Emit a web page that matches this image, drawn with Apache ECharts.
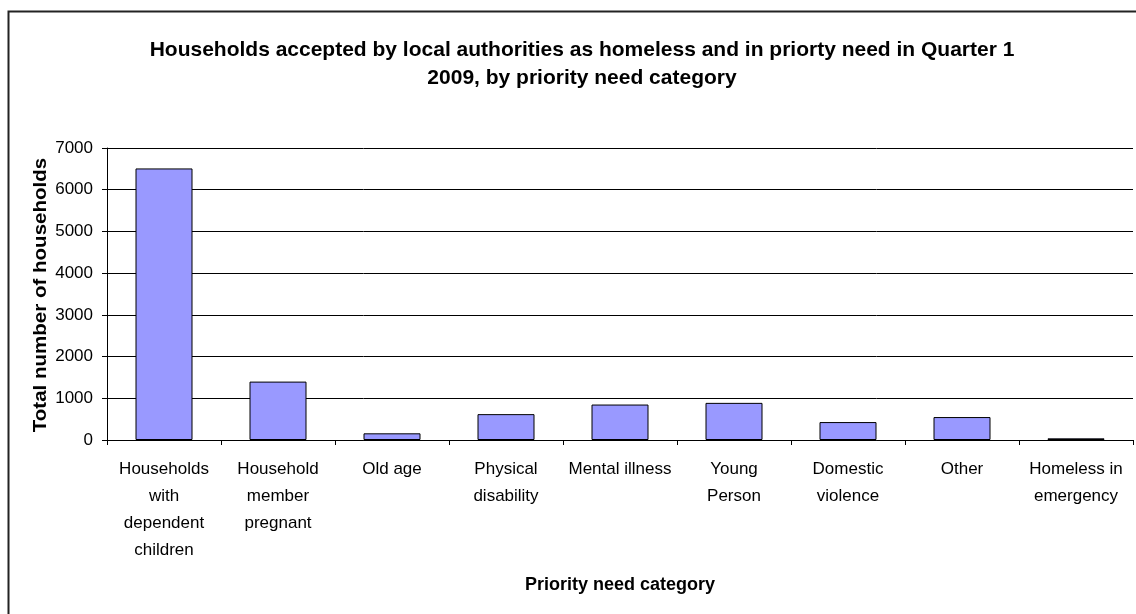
<!DOCTYPE html>
<html><head><meta charset="utf-8">
<script src="https://cdn.jsdelivr.net/npm/echarts@6/dist/echarts.min.js"></script>
<style>html,body{margin:0;padding:0;background:#fff}#c{width:1136px;height:614px}</style>
</head><body><div id="c"></div>
<script>
const categories = [
  'Households\nwith\ndependent\nchildren',
  'Household\nmember\npregnant',
  'Old age',
  'Physical\ndisability',
  'Mental illness',
  'Young\nPerson',
  'Domestic\nviolence',
  'Other',
  'Homeless in\nemergency'
];
const values = [6510, 1400, 160, 620, 850, 890, 430, 550, 40];
const titleText = 'Households accepted by local authorities as homeless and in priorty need in Quarter 1\n2009, by priority need category';
const yName = 'Total number of households';
const xName = 'Priority need category';

const font = '"Liberation Sans", Arial, sans-serif';
const chart = echarts.init(document.getElementById('c'), null, {renderer: 'canvas'});
chart.setOption({
  animation: false,
  backgroundColor: '#fff',
  graphic: [{
    type: 'rect', shape: {x: 8.5, y: 11.5, width: 1140, height: 620},
    style: {fill: 'none', stroke: '#222', lineWidth: 2}, silent: true, z: 0
  }, {
    type: 'text', x: 41, y: 295, rotation: Math.PI / 2, scaleX: 1.14, silent: true,
    style: {text: yName, font: 'bold 18px "Liberation Sans", Arial, sans-serif', fill: '#000', align: 'center', verticalAlign: 'middle'}
  }],
  title: {
    text: titleText, left: 577, top: 31, textAlign: 'center',
    textStyle: {fontFamily: font, fontSize: 21, fontWeight: 'bold', color: '#000', lineHeight: 28}
  },
  grid: {left: 107, right: 3, top: 148, bottom: 174, containLabel: false},
  xAxis: {
    type: 'category', data: categories,
    name: xName, nameLocation: 'middle', nameGap: 136,
    nameTextStyle: {fontFamily: font, fontSize: 18, fontWeight: 'bold', color: '#000'},
    axisLine: {lineStyle: {color: '#000', width: 1}},
    axisTick: {show: true, alignWithLabel: false, length: 5, lineStyle: {color: '#000'}},
    axisLabel: {fontFamily: font, fontSize: 17, color: '#000', lineHeight: 27, margin: 16, interval: 0}
  },
  yAxis: {
    type: 'value', min: 0, max: 7000, interval: 1000,
    axisLine: {show: true, lineStyle: {color: '#000', width: 1}},
    axisTick: {show: true, length: 5, lineStyle: {color: '#000'}},
    axisLabel: {fontFamily: font, fontSize: 17, color: '#000', margin: 14, formatter: v => String(v)},
    splitLine: {show: true, lineStyle: {color: '#000', width: 1}}
  },
  series: [{
    type: 'bar', data: values, barWidth: '50%',
    itemStyle: {color: '#9999FF', borderColor: '#000', borderWidth: 1}
  }]
});
</script></body></html>
